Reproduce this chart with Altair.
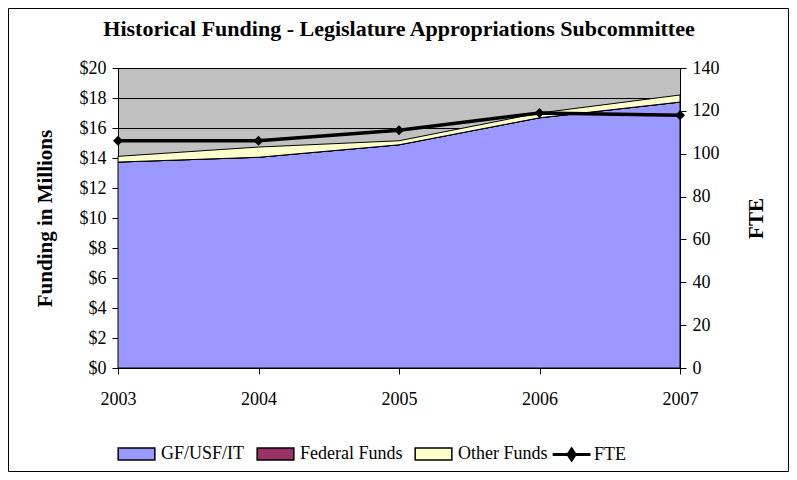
import altair as alt
import pandas as pd

years = [2003, 2004, 2005, 2006, 2007]
series_names = ["GF/USF/IT", "Federal Funds", "Other Funds"]
gf_usf_it = [13.73, 14.05, 14.88, 16.68, 17.73]
federal_funds = [0.0, 0.0, 0.0, 0.0, 0.0]
other_funds = [0.38, 0.68, 0.27, 0.32, 0.47]
fte = [106, 106, 111, 119, 118]
area_colors = ["#9999FF", "#993366", "#FFFFCC"]

FONT = "Liberation Serif"

rows = []
for i, name in enumerate(series_names):
    vals = [gf_usf_it, federal_funds, other_funds][i]
    for y, v in zip(years, vals):
        rows.append({"year": y, "series": name, "value": v, "idx": i})
area_df = pd.DataFrame(rows)
fte_df = pd.DataFrame({"year": years, "fte": fte, "series": ["FTE"] * len(years)})

x_enc = alt.X(
    "year:Q",
    scale=alt.Scale(domain=[2003, 2007], nice=False, zero=False),
    axis=alt.Axis(values=years, format="d", title=None, grid=False,
                  tickSize=6, labelPadding=16, labelFlush=False,
                  domainColor="black", tickColor="black"),
)

rect_path = "M-1,-0.5H2.1V0.5H-1Z"
line_path = "M-1,0H2.2M0.6,-0.45L0.9,0L0.6,0.45L0.3,0Z"

areas = alt.Chart(area_df).mark_area(stroke="black", strokeWidth=1).encode(
    x=x_enc,
    y=alt.Y("value:Q", stack="zero",
            scale=alt.Scale(domain=[0, 20], nice=False),
            axis=alt.Axis(values=list(range(0, 21, 2)), format="$.0f",
                          title="Funding in Millions", titleFontWeight="bold",
                          grid=True, gridColor="black", gridOpacity=1,
                          tickSize=6, labelPadding=6, titlePadding=24,
                          domainColor="black", tickColor="black")),
    color=alt.Color("series:N",
                    scale=alt.Scale(domain=series_names, range=area_colors),
                    legend=alt.Legend(
                        title=None, orient="none", direction="horizontal",
                        legendX=-1, legendY=373,
                        symbolType=rect_path, symbolSize=560,
                        symbolStrokeColor="black", symbolStrokeWidth=1.5,
                        symbolOpacity=1, labelFontSize=18, labelFont=FONT,
                        labelColor="black",
                        columnPadding=9, labelOffset=18)),
    order=alt.Order("idx:Q"),
)

fte_line = alt.Chart(fte_df).mark_line(strokeWidth=3.5).encode(
    x=alt.X("year:Q"),
    y=alt.Y("fte:Q", scale=alt.Scale(domain=[0, 140], nice=False),
            axis=alt.Axis(orient="right", values=list(range(0, 141, 20)),
                          title="FTE", titleFontWeight="bold", grid=False,
                          tickSize=6, labelPadding=6, titlePadding=47,
                          titleAngle=-90, titleBaseline="bottom",
                          domainColor="black", tickColor="black")),
    stroke=alt.Stroke("series:N", scale=alt.Scale(domain=["FTE"], range=["black"]),
                      legend=alt.Legend(
                          title=None, orient="none", legendX=433, legendY=373,
                          symbolType=line_path, symbolSize=560,
                          symbolStrokeWidth=3, symbolFillColor="black",
                          labelFontSize=18, labelFont=FONT, labelColor="black",
                          labelOffset=16)),
)

fte_pts = alt.Chart(fte_df).mark_point(shape="diamond", filled=True, size=100,
                                       color="black", opacity=1).encode(
    x=alt.X("year:Q"),
    y=alt.Y("fte:Q"),
)

border = alt.Chart(pd.DataFrame({"a": [0]})).mark_rect(
    fill=None, stroke="black", strokeWidth=1, clip=False
).encode(
    x=alt.value(-109.5), x2=alt.value(670.5),
    y=alt.value(-59.5), y2=alt.value(403.5),
)

chart = alt.layer(areas, fte_line + fte_pts, border).resolve_scale(
    y="independent"
).properties(
    width=562, height=300,
    autosize=alt.AutoSizeParams(type="none"),
    padding={"left": 110, "top": 60, "right": 109, "bottom": 104},
    title=alt.TitleParams(
        "Historical Funding - Legislature Appropriations Subcommittee",
        font=FONT, fontSize=22, fontWeight="bold", anchor="middle",
        offset=-33, color="black"),
).configure_view(
    fill="#C0C0C0", stroke="black", strokeWidth=1
).configure_axis(
    labelFont=FONT, labelFontSize=18, labelColor="black",
    titleFont=FONT, titleFontSize=21, titleColor="black",
)

chart.save("out.html", embed_options={"renderer": "svg", "actions": False})
